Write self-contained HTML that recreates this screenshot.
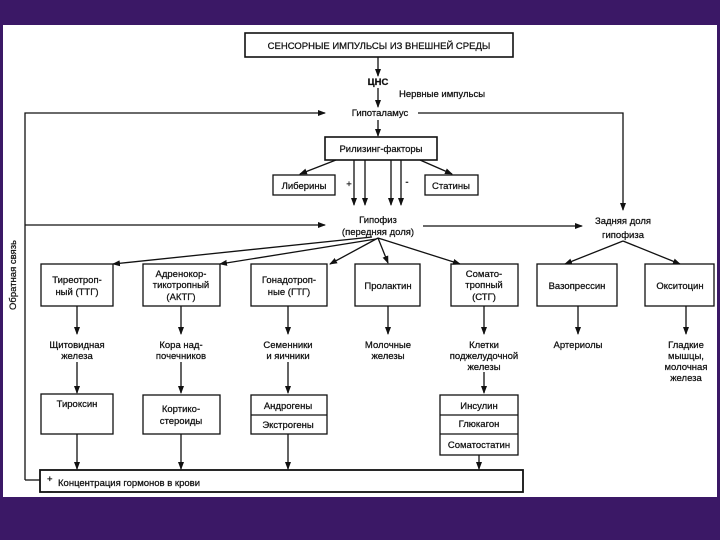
<!DOCTYPE html>
<html><head><meta charset="utf-8"><style>
body{margin:0;width:720px;height:540px;background:#3b1866;overflow:hidden}
svg{display:block}
text{font-family:"Liberation Sans","DejaVu Sans",sans-serif;font-size:9.5px;fill:#111;stroke:#111;stroke-width:0.25}
</style></head><body>
<svg width="720" height="540" viewBox="0 0 720 540">
<defs><marker id="a" markerWidth="8" markerHeight="8" refX="7" refY="4" orient="auto" markerUnits="userSpaceOnUse"><path d="M0,1 L8,4 L0,7z" fill="#111"/></marker></defs>
<rect x="0" y="0" width="720" height="540" fill="#3b1866"/>
<rect x="3" y="25" width="714" height="472" fill="#fff"/>
<g stroke="#111" stroke-width="1.3" fill="none">
<rect x="245" y="33" width="268" height="24" stroke-width="1.6"/>
<line x1="378" y1="57" x2="378" y2="76" marker-end="url(#a)"/>
<line x1="378" y1="88" x2="378" y2="107" marker-end="url(#a)"/>
<polyline points="25,480 25,113 325,113" marker-end="url(#a)"/>
<polyline points="418,113 623,113 623,210" marker-end="url(#a)"/>
<line x1="378" y1="120" x2="378" y2="136" marker-end="url(#a)"/>
<rect x="325" y="137" width="112" height="23" stroke-width="1.6"/>
<rect x="273" y="175" width="62" height="20"/>
<rect x="425" y="175" width="53" height="20"/>
<line x1="336" y1="160" x2="300" y2="174" marker-end="url(#a)"/>
<line x1="420" y1="160" x2="452" y2="174" marker-end="url(#a)"/>
<line x1="354" y1="160" x2="354" y2="205" marker-end="url(#a)"/>
<line x1="365" y1="160" x2="365" y2="205" marker-end="url(#a)"/>
<line x1="391" y1="160" x2="391" y2="205" marker-end="url(#a)"/>
<line x1="401" y1="160" x2="401" y2="205" marker-end="url(#a)"/>
<line x1="25" y1="225" x2="325" y2="225" marker-end="url(#a)"/>
<line x1="423" y1="226" x2="582" y2="226" marker-end="url(#a)"/>
<line x1="372" y1="237" x2="113" y2="264" marker-end="url(#a)"/>
<line x1="376" y1="239" x2="220" y2="264" marker-end="url(#a)"/>
<line x1="378" y1="238" x2="330" y2="264" marker-end="url(#a)"/>
<line x1="378" y1="238" x2="388" y2="263" marker-end="url(#a)"/>
<line x1="378" y1="238" x2="460" y2="264" marker-end="url(#a)"/>
<line x1="623" y1="241" x2="565" y2="264" marker-end="url(#a)"/>
<line x1="623" y1="241" x2="680" y2="264" marker-end="url(#a)"/>
<rect x="41" y="264" width="72" height="42"/>
<rect x="143" y="264" width="77" height="42"/>
<rect x="251" y="264" width="76" height="42"/>
<rect x="355" y="264" width="65" height="42"/>
<rect x="451" y="264" width="67" height="42"/>
<rect x="537" y="264" width="80" height="42"/>
<rect x="645" y="264" width="69" height="42"/>
<line x1="77" y1="306" x2="77" y2="334" marker-end="url(#a)"/>
<line x1="181" y1="306" x2="181" y2="334" marker-end="url(#a)"/>
<line x1="288" y1="306" x2="288" y2="334" marker-end="url(#a)"/>
<line x1="388" y1="306" x2="388" y2="334" marker-end="url(#a)"/>
<line x1="484" y1="306" x2="484" y2="334" marker-end="url(#a)"/>
<line x1="578" y1="306" x2="578" y2="334" marker-end="url(#a)"/>
<line x1="686" y1="306" x2="686" y2="334" marker-end="url(#a)"/>
<line x1="77" y1="362" x2="77" y2="393" marker-end="url(#a)"/>
<line x1="181" y1="362" x2="181" y2="393" marker-end="url(#a)"/>
<line x1="288" y1="362" x2="288" y2="393" marker-end="url(#a)"/>
<line x1="484" y1="372" x2="484" y2="393" marker-end="url(#a)"/>
<rect x="41" y="394" width="72" height="40"/>
<rect x="143" y="395" width="77" height="39"/>
<rect x="251" y="395" width="76" height="39"/><line x1="251" y1="415" x2="327" y2="415"/>
<rect x="440" y="395" width="78" height="60"/><line x1="440" y1="415" x2="518" y2="415"/><line x1="440" y1="434" x2="518" y2="434"/>
<line x1="77" y1="434" x2="77" y2="469" marker-end="url(#a)"/>
<line x1="181" y1="434" x2="181" y2="469" marker-end="url(#a)"/>
<line x1="288" y1="434" x2="288" y2="469" marker-end="url(#a)"/>
<line x1="479" y1="455" x2="479" y2="469" marker-end="url(#a)"/>
<rect x="40" y="470" width="483" height="22" stroke-width="1.8"/>
<line x1="25" y1="480" x2="40" y2="480"/>
</g>
<g text-anchor="middle">
<text x="379" y="49">СЕНСОРНЫЕ ИМПУЛЬСЫ ИЗ ВНЕШНЕЙ СРЕДЫ</text>
<text x="378" y="85" font-weight="bold">ЦНС</text>
<text x="442" y="97">Нервные импульсы</text>
<text x="380" y="116">Гипоталамус</text>
<text x="381" y="152">Рилизинг-факторы</text>
<text x="304" y="189">Либерины</text>
<text x="451" y="189">Статины</text>
<text x="349" y="187" font-size="12">+</text><text x="407" y="185" font-size="12">-</text>
<text x="378" y="223">Гипофиз</text>
<text x="378" y="235">(передняя доля)</text>
<text x="623" y="224">Задняя доля</text>
<text x="623" y="238">гипофиза</text>
<text x="77" y="283">Тиреотроп-</text><text x="77" y="295">ный (ТТГ)</text>
<text x="181" y="277">Адренокор-</text><text x="181" y="288">тикотропный</text><text x="181" y="300">(АКТГ)</text>
<text x="289" y="283">Гонадотроп-</text><text x="289" y="295">ные (ГТГ)</text>
<text x="388" y="289">Пролактин</text>
<text x="484" y="277">Сомато-</text><text x="484" y="288">тропный</text><text x="484" y="300">(СТГ)</text>
<text x="577" y="289">Вазопрессин</text>
<text x="680" y="289">Окситоцин</text>
<text x="77" y="348">Щитовидная</text><text x="77" y="359">железа</text>
<text x="181" y="348">Кора над-</text><text x="181" y="359">почечников</text>
<text x="288" y="348">Семенники</text><text x="288" y="359">и яичники</text>
<text x="388" y="348">Молочные</text><text x="388" y="359">железы</text>
<text x="484" y="348">Клетки</text><text x="484" y="359">поджелудочной</text><text x="484" y="370">железы</text>
<text x="578" y="348">Артериолы</text>
<text x="686" y="348">Гладкие</text><text x="686" y="359">мышцы,</text><text x="686" y="370">молочная</text><text x="686" y="381">железа</text>
<text x="77" y="407">Тироксин</text>
<text x="181" y="412">Кортико-</text><text x="181" y="424">стероиды</text>
<text x="288" y="409">Андрогены</text><text x="288" y="428">Экстрогены</text>
<text x="479" y="409">Инсулин</text><text x="479" y="427">Глюкагон</text><text x="479" y="448">Соматостатин</text>
</g>
<text x="47" y="482" font-size="10">+</text><text x="47" y="490" font-size="10">_</text>
<text x="58" y="486">Концентрация гормонов в крови</text>
<text transform="translate(16,310) rotate(-90)" font-size="9.5">Обратная связь</text>
</svg>
</body></html>
